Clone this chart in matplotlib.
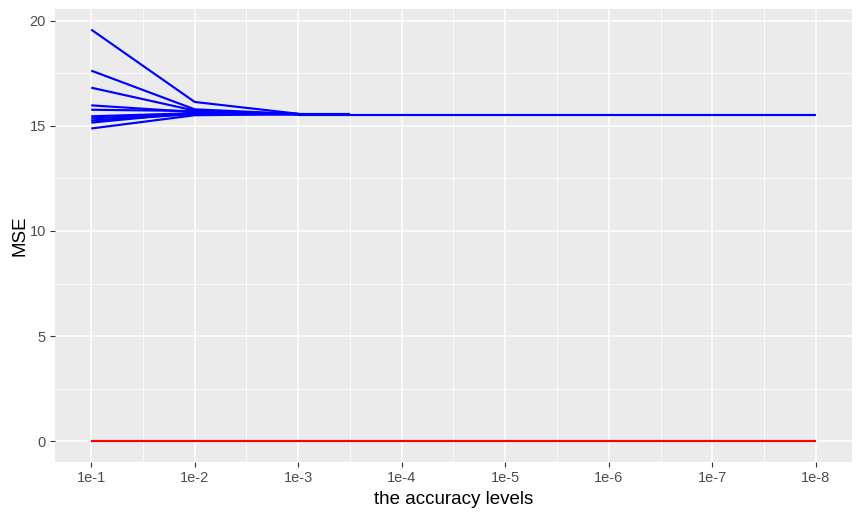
import numpy as np
import matplotlib.pyplot as plt

## Accuracy levels (index positions on x axis) and their labels
levels = np.arange(1, 9)
level_labels = ["1e-1", "1e-2", "1e-3", "1e-4", "1e-5", "1e-6", "1e-7", "1e-8"]

## MSE of the blue runs at the first three levels
mse_lvl1 = [19.57, 17.62, 16.81, 15.97, 15.76, 15.45, 15.35, 15.25, 15.15, 14.87]
mse_lvl2 = [16.13, 15.78, 15.72, 15.65, 15.70, 15.60, 15.58, 15.55, 15.62, 15.50]
mse_lvl3 = [15.57, 15.56, 15.55, 15.56, 15.55, 15.55, 15.54, 15.55, 15.56, 15.55]

## one run stops half way between 1e-3 and 1e-4, one runs to the end
short_x = [3, 3.5]
short_mse = [15.58, 15.58]
long_mse = [15.52, 15.52, 15.52, 15.52, 15.52, 15.52]

## reference (red) run
red_mse = [0, 0, 0, 0, 0, 0, 0, 0]

plt.rcParams['font.family'] = ['Liberation Sans', 'DejaVu Sans']

fig = plt.figure(figsize=(8.62, 5.17), dpi=100)
ax = fig.add_axes([55/862, 1 - 462/517, (852-55)/862, (462-9)/517])
ax.set_facecolor('#EBEBEB')

blue = '#0000FF'
for a, b, c in zip(mse_lvl1, mse_lvl2, mse_lvl3):
    ax.plot(levels[:3], [a, b, c], color=blue, lw=1.55, solid_capstyle='butt', zorder=3)
ax.plot(short_x, short_mse, color=blue, lw=1.55, solid_capstyle='butt', zorder=3)
ax.plot(levels[2:], long_mse, color=blue, lw=1.55, solid_capstyle='butt', zorder=3)
ax.plot(levels, red_mse, color='#FF0000', lw=1.55, solid_capstyle='butt', zorder=3)

## ggplot-like expansion
ax.set_xlim(1 - 0.35, 8 + 0.35)
ymax = max(mse_lvl1)
ax.set_ylim(-0.05*ymax, ymax*1.05)

ax.set_xticks(levels)
ax.set_xticklabels(level_labels)
ax.set_xticks(levels[:-1] + 0.5, minor=True)
ax.set_yticks([0, 5, 10, 15, 20])
ax.set_yticks([2.5, 7.5, 12.5, 17.5], minor=True)

ax.grid(which='major', color='white', lw=1.1)
ax.grid(which='minor', color='white', lw=0.55)
ax.set_axisbelow(True)
for s in ax.spines.values():
    s.set_visible(False)

ax.tick_params(which='major', length=3.5, width=0.8, color='#333333',
               labelcolor='#4D4D4D', labelsize=10.5, pad=3)
ax.tick_params(which='minor', length=0)

ax.set_xlabel('the accuracy levels', fontsize=13.5, color='black', labelpad=4)
ax.set_ylabel('MSE', fontsize=13.5, color='black', labelpad=1)

fig.savefig('out.png', dpi=100)
